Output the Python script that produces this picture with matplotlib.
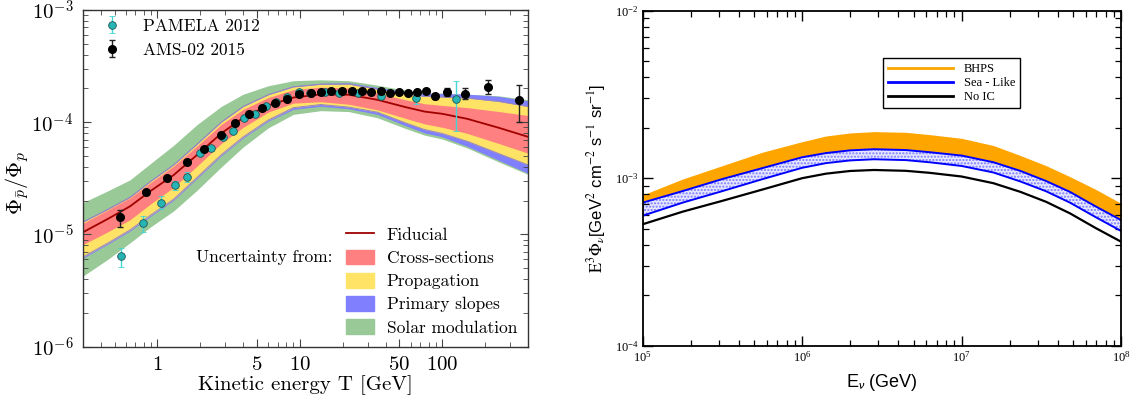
import numpy as np
import matplotlib
matplotlib.use('Agg')
import matplotlib.pyplot as plt
from matplotlib.patches import Patch
from matplotlib.lines import Line2D
from matplotlib.ticker import LogLocator, FixedLocator, FuncFormatter, NullFormatter

plt.rcParams['font.family'] = 'cmr10'
plt.rcParams['mathtext.fontset'] = 'cm'
plt.rcParams['axes.formatter.use_mathtext'] = True

# ---- left panel: pbar/p ratio ----
# band grid (kinetic energy, GeV) and fiducial curve (log10 of ratio)
T_band = np.array([0.3, 0.45, 0.64, 0.9, 1.3, 1.9, 2.8, 4.0, 6.0, 9.0, 14, 22, 35, 55, 75, 100, 150, 250, 400])
fid_log = np.array([-4.98, -4.86, -4.75, -4.61, -4.47, -4.29, -4.10, -3.96, -3.85, -3.78, -3.752, -3.755,
                    -3.80, -3.865, -3.905, -3.925, -3.97, -4.05, -4.13])
# band half-widths in dex above (up) / below (dn) the fiducial
red_up = np.array([.08, .08, .075, .075, .08, .08, .08, .075, .07, .07, .065, .06, .06, .065, .07, .075, .10, .145, .19])
red_dn = np.array([.11, .115, .12, .115, .11, .10, .09, .085, .06, .05, .065, .085, .09, .10, .11, .12, .13, .14, .146])
yel_up = np.array([.09, .085, .08, .085, .09, .095, .10, .10, .095, .095, .09, .095, .095, .12, .135, .15, .185, .235, .27])
yel_dn = np.array([.22, .215, .21, .215, .215, .20, .19, .17, .13, .09, .09, .11, .11, .14, .16, .175, .20, .23, .25])
blu_up = np.array([.10, .095, .09, .095, .10, .105, .11, .11, .105, .105, .10, .107, .11, .14, .16, .18, .22, .28, .32])
blu_dn = np.array([.23, .225, .22, .225, .225, .21, .20, .18, .14, .105, .105, .125, .13, .165, .19, .205, .245, .29, .325])
grn_up = np.array([.265, .25, .236, .245, .265, .27, .24, .21, .175, .15, .13, .125, .13, .15, .165, .185, .22, .285, .33])
grn_dn = np.array([.39, .36, .325, .32, .32, .315, .30, .26, .20, .15, .145, .15, .16, .19, .21, .225, .26, .305, .335])

pam_T = np.array([0.55, 0.79, 1.05, 1.32, 1.60, 1.99, 2.38, 2.87, 3.40, 4.06, 4.82, 5.79, 6.80, 8.17,
                  9.86, 11.8, 14.9, 18.9, 25.5, 37, 65.5, 125])
pam_v = np.array([6.45e-6, 1.27e-5, 1.92e-5, 2.77e-5, 3.28e-5, 5.37e-5, 5.87e-5, 7.35e-5, 8.4e-5, 1.09e-4,
                  1.19e-4, 1.40e-4, 1.50e-4, 1.69e-4, 1.87e-4, 1.81e-4, 1.87e-4, 1.82e-4, 1.84e-4, 1.72e-4,
                  1.66e-4, 1.60e-4])
pam_eup = np.array([.18, .16, .135, .09, .10, .06, .05, .05, .05, .04, .04, .04, .04, .04, .04, .04, .04, .04,
                    .04, .07, .12, .47])
pam_edn = np.array([.20, .17, .12, .10, .10, .06, .05, .05, .05, .04, .04, .04, .04, .04, .04, .04, .04, .04,
                    .04, .07, .12, .475])

ams_T = np.array([0.546, 0.83, 1.17, 1.60, 2.12, 2.79, 3.50, 4.42, 5.45, 6.73, 8.17, 9.9, 11.9, 14.1, 16.6,
                  19.6, 23.2, 27.2, 31.6, 37, 43, 49.7, 57.8, 66.9, 77.3, 89.4, 108, 144, 208, 346])
ams_v = np.array([1.42e-5, 2.38e-5, 3.2e-5, 4.43e-5, 5.78e-5, 7.7e-5, 9.93e-5, 1.19e-4, 1.33e-4, 1.48e-4,
                  1.61e-4, 1.78e-4, 1.84e-4, 1.86e-4, 1.91e-4, 1.91e-4, 1.90e-4, 1.90e-4, 1.87e-4, 1.90e-4,
                  1.82e-4, 1.87e-4, 1.82e-4, 1.85e-4, 1.89e-4, 1.71e-4, 1.85e-4, 1.80e-4, 2.08e-4, 1.58e-4])
ams_eup = np.array([.17, .03, .03, .03, .03, .03, .03, .03, .03, .03, .03, .03, .03, .03, .03, .03, .03, .03,
                    .03, .03, .03, .03, .04, .04, .04, .05, .08, .11, .15, .36])
ams_edn = np.array([.18, .03, .03, .03, .03, .03, .03, .03, .03, .03, .03, .03, .03, .03, .03, .03, .03, .03,
                    .03, .03, .03, .03, .04, .04, .04, .05, .08, .11, .15, .36])

# ---- right panel: neutrino flux (log10 values) ----
nu_logE = np.array([5.0, 5.25, 5.5, 5.75, 6.0, 6.15, 6.3, 6.45, 6.65, 6.8, 7.0, 7.2, 7.37, 7.53, 7.68, 7.84, 8.0])
bhps_top = np.array([-3.100, -3.005, -2.925, -2.845, -2.782, -2.748, -2.730, -2.722, -2.726, -2.740, -2.762,
                     -2.805, -2.865, -2.925, -2.991, -3.066, -3.150])
sea_top = np.array([-3.146, -3.077, -3.005, -2.940, -2.875, -2.850, -2.834, -2.827, -2.832, -2.845, -2.865,
                    -2.905, -2.957, -3.017, -3.082, -3.168, -3.250])
sea_bot = np.array([-3.224, -3.146, -3.077, -3.006, -2.938, -2.910, -2.894, -2.887, -2.892, -2.905, -2.927,
                    -2.966, -3.020, -3.078, -3.146, -3.232, -3.315])
no_ic = np.array([-3.275, -3.200, -3.135, -3.068, -3.000, -2.973, -2.957, -2.951, -2.956, -2.968, -2.990,
                  -3.030, -3.082, -3.141, -3.210, -3.297, -3.379])

c_red, c_yel, c_blu, c_grn, c_fid = '#ff8080', '#ffe366', '#8080ff', '#98c996', '#a00000'

fig = plt.figure(figsize=(11.39, 4.03), dpi=100)
ax1 = fig.add_axes([0.0729, 0.1397, 0.3907, 0.8355])
ax2 = fig.add_axes([0.5643, 0.1422, 0.4199, 0.8313])

ax1.set_xscale('log')
ax1.set_yscale('log')
ax1.fill_between(T_band, 10**(fid_log - grn_dn), 10**(fid_log + grn_up), color=c_grn, lw=0)
ax1.fill_between(T_band, 10**(fid_log - blu_dn), 10**(fid_log + blu_up), color=c_blu, lw=0)
ax1.fill_between(T_band, 10**(fid_log - yel_dn), 10**(fid_log + yel_up), color=c_yel, lw=0)
ax1.plot(T_band, 10**(fid_log + yel_up), color='#9a88b8', lw=0.7)
ax1.plot(T_band, 10**(fid_log - yel_dn), color='#9a88b8', lw=0.7)
ax1.fill_between(T_band, 10**(fid_log - red_dn), 10**(fid_log + red_up), color=c_red, lw=0)
ax1.plot(T_band, 10**fid_log, color=c_fid, lw=1.3)

ax1.errorbar(pam_T, pam_v, yerr=[pam_v * pam_edn, pam_v * pam_eup], fmt='o', ms=5.5, mfc='#26b4b4',
             mec='#1b5555', mew=0.6, ecolor='#45d5d5', elinewidth=1, capsize=2.5, zorder=5,
             label='PAMELA 2012')
ax1.errorbar(ams_T, ams_v, yerr=[ams_v * ams_edn, ams_v * ams_eup], fmt='o', ms=5.5, mfc='black',
             mec='black', ecolor='#222222', elinewidth=1, capsize=2.5, zorder=6, label='AMS-02 2015')

ax1.set_xlim(0.3, 400)
ax1.set_ylim(1e-6, 1e-3)
ax1.xaxis.set_major_locator(FixedLocator([1, 5, 10, 50, 100]))
ax1.xaxis.set_major_formatter(FuncFormatter(lambda v, p: r'$%g$' % v))
ax1.xaxis.set_minor_locator(LogLocator(base=10, subs=np.arange(1, 10) * 1.0, numticks=30))
ax1.xaxis.set_minor_formatter(NullFormatter())
ax1.yaxis.set_major_locator(LogLocator(base=10, numticks=10))
ax1.yaxis.set_major_formatter(FuncFormatter(lambda v, p: r'$10^{%d}$' % round(np.log10(v))))
ax1.yaxis.set_minor_locator(LogLocator(base=10, subs=np.arange(2, 10) * 1.0, numticks=30))
ax1.yaxis.set_minor_formatter(NullFormatter())
ax1.tick_params(which='both', direction='in', top=True, right=True, labelsize=15, color='#444444')
ax1.tick_params(which='major', length=6, width=0.8, pad=7)
ax1.tick_params(which='minor', length=3.5, width=0.6)
for s in ax1.spines.values():
    s.set_color('#333333')
    s.set_linewidth(1.0)

ax1.set_xlabel('Kinetic energy T [GeV]', fontsize=15)
ax1.xaxis.set_label_coords(0.5, -0.085)
ax1.set_ylabel(r'$\Phi_{\bar{p}}/\Phi_p$', fontsize=16)
ax1.yaxis.set_label_coords(-0.118, 0.486)

leg1 = ax1.legend(loc='upper left', bbox_to_anchor=(0.045, 0.975), frameon=False, fontsize=12.5,
                  handlelength=1.0, handletextpad=1.3, borderaxespad=0, borderpad=0, labelspacing=0.5)
ax1.add_artist(leg1)
h2 = [Line2D([], [], color=c_fid, lw=1.3), Patch(color=c_red), Patch(color=c_yel), Patch(color=c_blu),
      Patch(color=c_grn)]
l2 = ['Fiducial', 'Cross-sections', 'Propagation', 'Primary slopes', 'Solar modulation']
ax1.legend(h2, l2, loc='upper left', bbox_to_anchor=(0.591, 0.356), frameon=False, fontsize=12.5,
           handlelength=1.6, handleheight=0.9, handletextpad=0.75, labelspacing=0.4, borderaxespad=0,
           borderpad=0)
ax1.text(0.5596, 0.2643, 'Uncertainty from:', transform=ax1.transAxes, ha='right', va='center',
         fontsize=12.5)

# right panel
E = 10**nu_logE
ax2.set_xscale('log')
ax2.set_yscale('log')
ax2.fill_between(E, 10**sea_top, 10**bhps_top, color='#ffa500', lw=0)
ax2.fill_between(E, 10**sea_bot, 10**sea_top, facecolor='#e6e6ff', hatch='.....', edgecolor='#7a7aff', lw=0)
ax2.plot(E, 10**sea_top, color='#0000ff', lw=1.4)
ax2.plot(E, 10**sea_bot, color='#0000ff', lw=1.4)
ax2.plot(E, 10**no_ic, color='black', lw=1.6)

ax2.set_xlim(1e5, 1e8)
ax2.set_ylim(1e-4, 1e-2)
logfmt = FuncFormatter(lambda v, p: r'$\mathdefault{10^{%d}}$' % round(np.log10(v)))
for axis in (ax2.xaxis, ax2.yaxis):
    axis.set_major_locator(LogLocator(base=10, numticks=10))
    axis.set_major_formatter(logfmt)
    axis.set_minor_locator(LogLocator(base=10, subs=np.arange(2, 10) * 1.0, numticks=30))
    axis.set_minor_formatter(NullFormatter())
ax2.tick_params(which='both', direction='in', top=True, right=True, labelsize=9,
                labelfontfamily='Liberation Serif')
ax2.tick_params(which='major', length=7, width=1.0, pad=3)
ax2.tick_params(which='minor', length=4, width=0.9)
for s in ax2.spines.values():
    s.set_linewidth(1.3)

ax2.set_xlabel(r'E$_\nu$ (GeV)', fontsize=13, family='Liberation Sans', math_fontfamily='stixsans')
ax2.xaxis.set_label_coords(0.5, -0.078)
ax2.set_ylabel(r'$\mathrm{E}^3\Phi_\nu$[GeV$^2$ cm$^{-2}$ s$^{-1}$ sr$^{-1}$]', fontsize=12,
               family='Liberation Sans', math_fontfamily='stix')
ax2.yaxis.set_label_coords(-0.072, 0.5)

h3 = [Line2D([], [], color='#ffa500', lw=2), Line2D([], [], color='#0000ff', lw=2),
      Line2D([], [], color='black', lw=2)]
leg3 = ax2.legend(h3, ['BHPS', 'Sea - Like', 'No IC'], loc='upper left', bbox_to_anchor=(0.502, 0.858),
                  prop={'family': 'Liberation Serif', 'size': 9}, handlelength=5.2, handletextpad=0.9,
                  labelspacing=0.15, borderaxespad=0, borderpad=0.4, fancybox=False, framealpha=1,
                  edgecolor='black')
leg3.get_frame().set_linewidth(1.0)

fig.savefig('out.png', dpi=100)
